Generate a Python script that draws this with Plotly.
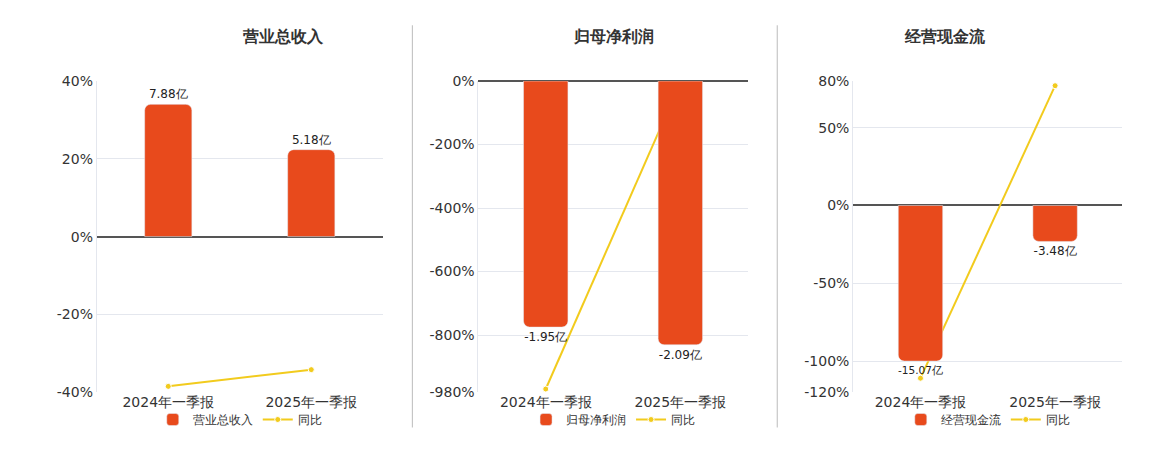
import plotly.graph_objects as go

categories = ["2024年一季报", "2025年一季报"]
titles = ["营业总收入", "归母净利润", "经营现金流"]
bar_values = [[7.88, 5.18], [-1.95, -2.09], [-15.07, -3.48]]
bar_labels = [["7.88亿", "5.18亿"], ["-1.95亿", "-2.09亿"], ["-15.07亿", "-3.48亿"]]
yoy_values = [[-38.5, -34.2], [-970, -5], [-111, 77]]
pct_ranges = [[-40, 40], [-980, 0], [-120, 80]]
pct_ticks = [[-40, -20, 0, 20, 40], [-980, -800, -600, -400, -200, 0], [-120, -100, -50, 0, 50, 80]]
bar_scale = [34 / 7.88, 775 / 1.95, 100 / 15.07]

BAR = "#E84A1C"
LINE = "#F2CB1D"
W, H = 1160, 450
xdom = [(90, 380), (477, 750), (857, 1130)]
ydom = [1 - 405 / H, 1 - 70 / H]

fig = go.Figure()
for i in range(3):
    n = "" if i == 0 else str(2 * i + 1)
    n2 = str(2 * i + 2)
    xa = "x" + ("" if i == 0 else str(i + 1))
    lg = "legend" + ("" if i == 0 else str(i + 1))
    fig.add_trace(go.Bar(x=categories, y=bar_values[i], name=titles[i], marker_color=BAR,
                         width=0.33, text=bar_labels[i], textposition="outside",
                         textfont=dict(size=12, color="#222"), cliponaxis=False,
                         xaxis=xa, yaxis="y" + n2, legend=lg))
    fig.add_trace(go.Scatter(x=categories, y=yoy_values[i], name="同比", mode="lines+markers",
                             line=dict(color=LINE, width=2),
                             marker=dict(size=6, color=LINE, line=dict(color="white", width=1)),
                             xaxis=xa, yaxis="y" + n, legend=lg))
    d = [xdom[i][0] / W, xdom[i][1] / W]
    r = pct_ranges[i]
    s = bar_scale[i]
    fig.layout["xaxis" + ("" if i == 0 else str(i + 1))] = dict(
        domain=d, anchor="y" + n, showgrid=False, tickfont=dict(size=14, color="#333"),
        showline=False, ticks="")
    fig.layout["yaxis" + n] = dict(
        domain=ydom, anchor=xa, range=r, tickvals=pct_ticks[i],
        ticktext=[f"{v}%" for v in pct_ticks[i]], gridcolor="#E4E7EE",
        zeroline=True, zerolinecolor="#555", zerolinewidth=1.5,
        tickfont=dict(size=14, color="#333"), showline=True, linecolor="#E4E7EE")
    fig.layout["yaxis" + n2] = dict(
        domain=ydom, anchor=xa, overlaying="y" + n, range=[r[0] / s, r[1] / s],
        visible=False, showgrid=False, zeroline=False)
    fig.layout[lg] = dict(orientation="h", x=(d[0] + d[1]) / 2, xanchor="center",
                          y=0.0, yanchor="bottom", font=dict(size=12, color="#333"),
                          bgcolor="rgba(0,0,0,0)")
    fig.add_annotation(text=f"<b>{titles[i]}</b>", x=(d[0] + d[1]) / 2, y=1 - 22 / H,
                       xref="paper", yref="paper", showarrow=False, yanchor="middle",
                       font=dict(size=16, color="#333"))

for xs in (410, 780):
    fig.add_shape(type="line", xref="paper", yref="paper", x0=xs / W, x1=xs / W,
                  y0=1 - 443 / H, y1=1 - 10 / H, line=dict(color="#BBBBBB", width=1))

fig.update_layout(autosize=True, margin=dict(l=0, r=0, t=0, b=0),
                  plot_bgcolor="white", paper_bgcolor="white", showlegend=True,
                  font=dict(family="DejaVu Sans"), barcornerradius=6)
fig.write_html("out.html", default_width="100%", default_height="100%",
               config={"responsive": True})
